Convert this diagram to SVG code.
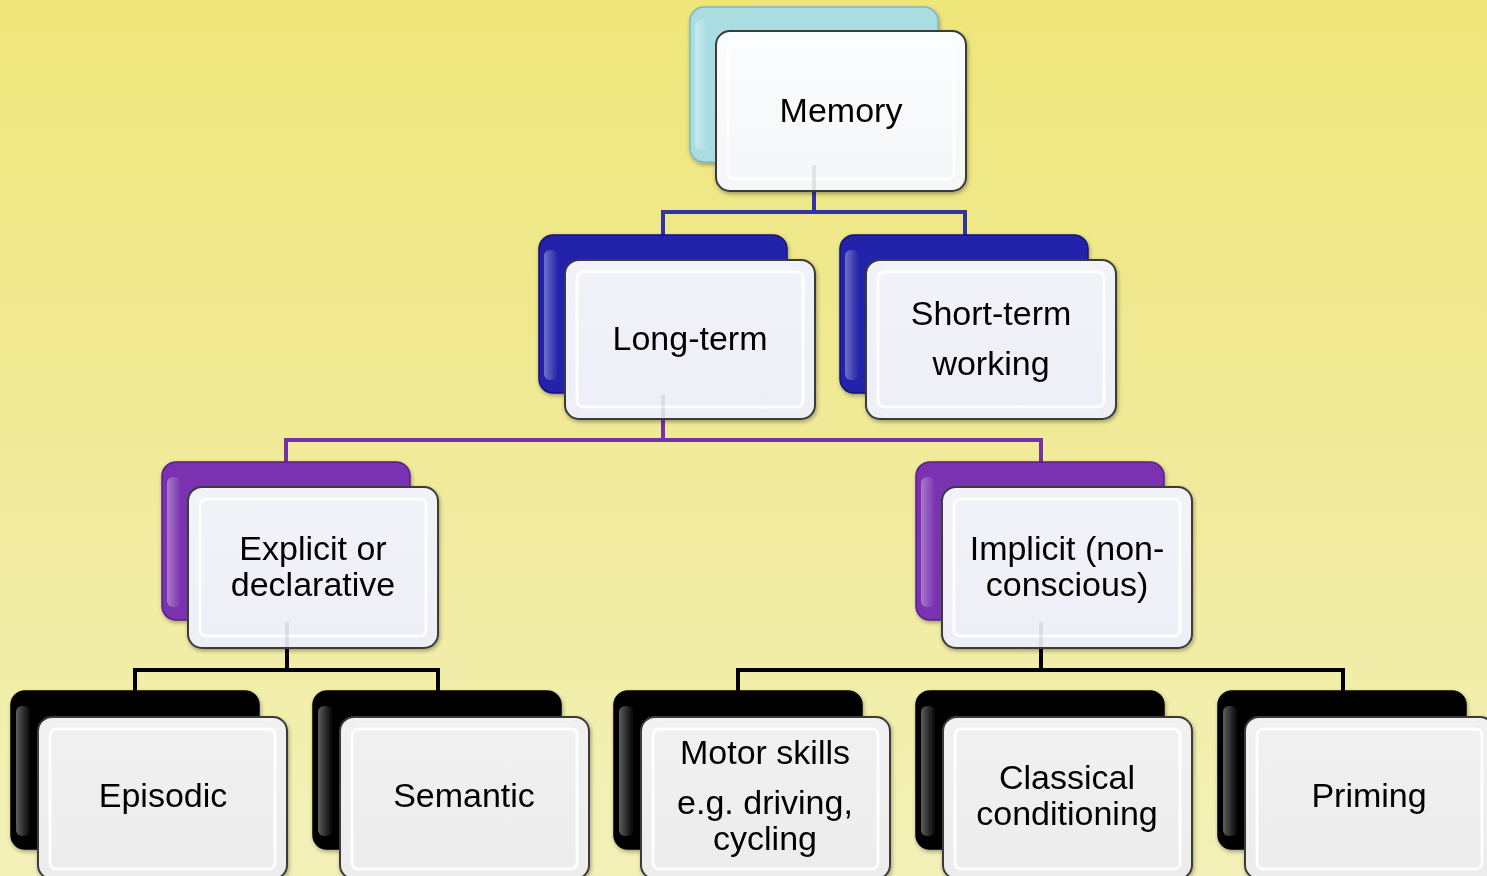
<svg xmlns="http://www.w3.org/2000/svg" width="1487" height="876" viewBox="0 0 1487 876">
<defs>
<linearGradient id="bg" x1="0" y1="0" x2="0" y2="1">
<stop offset="0" stop-color="#eee679"/>
<stop offset="0.5" stop-color="#f0ea98"/>
<stop offset="1" stop-color="#f3f1b8"/>
</linearGradient>
<linearGradient id="fw" x1="0" y1="0" x2="0" y2="1">
<stop offset="0" stop-color="#fbfcfd"/>
<stop offset="1" stop-color="#f5f6f7"/>
</linearGradient>
<linearGradient id="fl" x1="0" y1="0" x2="0" y2="1">
<stop offset="0" stop-color="#f2f2f9"/>
<stop offset="1" stop-color="#eeeef6"/>
</linearGradient>
<linearGradient id="fg" x1="0" y1="0" x2="0" y2="1">
<stop offset="0" stop-color="#f1f1f1"/>
<stop offset="1" stop-color="#ececec"/>
</linearGradient>
<linearGradient id="hl" x1="0" y1="0" x2="1" y2="0">
<stop offset="0" stop-color="#ffffff" stop-opacity="0.35"/>
<stop offset="1" stop-color="#ffffff" stop-opacity="0"/>
</linearGradient>
<filter id="sh" x="-10%" y="-10%" width="125%" height="125%">
<feGaussianBlur in="SourceAlpha" stdDeviation="2"/>
<feOffset dx="1" dy="2"/>
<feComponentTransfer><feFuncA type="linear" slope="0.35"/></feComponentTransfer>
<feMerge><feMergeNode/><feMergeNode in="SourceGraphic"/></feMerge>
</filter>
</defs>
<style>
.back{stroke-width:1.5}
.cy{fill:#a9dde2;stroke:#7fb9bf}
.bl{fill:#2222aa;stroke:#16167a}
.pu{fill:#7a32b0;stroke:#5a2088}
.bk{fill:#060606;stroke:#000}
.front{stroke:#3a3a3a;stroke-width:2}
.inner{fill:none;stroke:#ffffff;stroke-width:3;opacity:0.9}
.hl{fill:url(#hl)}
.ghost{stroke:#000;stroke-opacity:0.08;stroke-width:4}
.t{font-family:"Liberation Sans",Arial,sans-serif;font-size:34px;fill:#000;text-anchor:middle}
.c{fill:none;stroke-width:4}
</style>
<rect x="0" y="0" width="1487" height="876" fill="url(#bg)"/>
<g id="connectors">
<path class="c" stroke="#3333a6" d="M814 191V212M663 235V212H965V235"/>
<path class="c" stroke="#7532a8" d="M663 419V440M286 462V440H1041V462"/>
<path class="c" stroke="#000" d="M287 648V670M135 691V670H438V691"/>
<path class="c" stroke="#000" d="M1041 648V670M738 691V670H1343V691"/>
</g>
<g id="memory" filter="url(#sh)">
<rect class="back cy" x="690" y="7" width="248" height="155" rx="14"/>
<rect class="hl" x="695" y="20" width="14" height="130" rx="6"/>
<rect class="front" fill="url(#fw)" x="716" y="31" width="250" height="160" rx="14"/>
<rect class="inner" x="728" y="43" width="226" height="136" rx="6"/>
<path class="ghost" d="M814 165V190"/>
<text class="t" x="841" y="122">Memory</text>
</g>
<g id="longterm" filter="url(#sh)">
<rect class="back bl" x="539" y="235" width="248" height="158" rx="14"/>
<rect class="hl" x="544" y="250" width="14" height="130" rx="6"/>
<rect class="front" fill="url(#fl)" x="565" y="260" width="250" height="159" rx="14"/>
<rect class="inner" x="577" y="272" width="226" height="135" rx="6"/>
<path class="ghost" d="M663 395V418"/>
<text class="t" x="690" y="350">Long-term</text>
</g>
<g id="shortterm" filter="url(#sh)">
<rect class="back bl" x="840" y="235" width="248" height="158" rx="14"/>
<rect class="hl" x="845" y="250" width="14" height="130" rx="6"/>
<rect class="front" fill="url(#fl)" x="866" y="260" width="250" height="159" rx="14"/>
<rect class="inner" x="878" y="272" width="226" height="135" rx="6"/>
<text class="t" x="991" y="325">Short-term</text>
<text class="t" x="991" y="375">working</text>
</g>
<g id="explicit" filter="url(#sh)">
<rect class="back pu" x="162" y="462" width="248" height="158" rx="14"/>
<rect class="hl" x="167" y="477" width="14" height="130" rx="6"/>
<rect class="front" fill="url(#fl)" x="188" y="487" width="250" height="161" rx="14"/>
<rect class="inner" x="200" y="499" width="226" height="137" rx="6"/>
<path class="ghost" d="M287 622V647"/>
<text class="t" x="313" y="560">Explicit or</text>
<text class="t" x="313" y="596">declarative</text>
</g>
<g id="implicit" filter="url(#sh)">
<rect class="back pu" x="916" y="462" width="248" height="158" rx="14"/>
<rect class="hl" x="921" y="477" width="14" height="130" rx="6"/>
<rect class="front" fill="url(#fl)" x="942" y="487" width="250" height="161" rx="14"/>
<rect class="inner" x="954" y="499" width="226" height="137" rx="6"/>
<path class="ghost" d="M1041 622V647"/>
<text class="t" x="1067" y="560">Implicit (non-</text>
<text class="t" x="1067" y="596">conscious)</text>
</g>
<g id="episodic" filter="url(#sh)">
<rect class="back bk" x="11" y="691" width="248" height="158" rx="14"/>
<rect class="hl" x="16" y="706" width="14" height="130" rx="6"/>
<rect class="front" fill="url(#fg)" x="38" y="717" width="249" height="162" rx="14"/>
<rect class="inner" x="50" y="729" width="225" height="140" rx="6"/>
<text class="t" x="163" y="807">Episodic</text>
</g>
<g id="semantic" filter="url(#sh)">
<rect class="back bk" x="313" y="691" width="248" height="158" rx="14"/>
<rect class="hl" x="318" y="706" width="14" height="130" rx="6"/>
<rect class="front" fill="url(#fg)" x="340" y="717" width="249" height="162" rx="14"/>
<rect class="inner" x="352" y="729" width="225" height="140" rx="6"/>
<text class="t" x="464" y="807">Semantic</text>
</g>
<g id="motor" filter="url(#sh)">
<rect class="back bk" x="614" y="691" width="248" height="158" rx="14"/>
<rect class="hl" x="619" y="706" width="14" height="130" rx="6"/>
<rect class="front" fill="url(#fg)" x="641" y="717" width="249" height="162" rx="14"/>
<rect class="inner" x="653" y="729" width="225" height="140" rx="6"/>
<text class="t" x="765" y="764">Motor skills</text>
<text class="t" x="765" y="814">e.g. driving,</text>
<text class="t" x="765" y="850">cycling</text>
</g>
<g id="classical" filter="url(#sh)">
<rect class="back bk" x="916" y="691" width="248" height="158" rx="14"/>
<rect class="hl" x="921" y="706" width="14" height="130" rx="6"/>
<rect class="front" fill="url(#fg)" x="943" y="717" width="249" height="162" rx="14"/>
<rect class="inner" x="955" y="729" width="225" height="140" rx="6"/>
<text class="t" x="1067" y="789">Classical</text>
<text class="t" x="1067" y="825">conditioning</text>
</g>
<g id="priming" filter="url(#sh)">
<rect class="back bk" x="1218" y="691" width="248" height="158" rx="14"/>
<rect class="hl" x="1223" y="706" width="14" height="130" rx="6"/>
<rect class="front" fill="url(#fg)" x="1245" y="717" width="249" height="162" rx="14"/>
<rect class="inner" x="1257" y="729" width="225" height="140" rx="6"/>
<text class="t" x="1369" y="807">Priming</text>
</g>
</svg>
